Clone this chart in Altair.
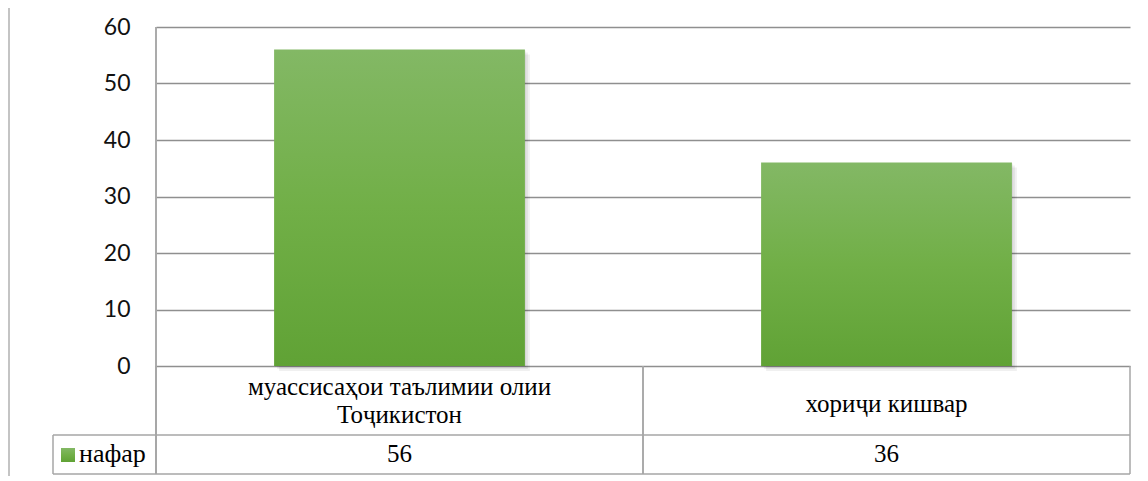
import altair as alt
import pandas as pd

# ---- data ----
categories = ["муассисаҳои таълимии олии\nТоҷикистон", "хориҷи кишвар"]
values = [56, 36]
series_name = "нафар"
y_ticks = [0, 10, 20, 30, 40, 50, 60]

df = pd.DataFrame({"cat": categories, "value": values})
legend_df = pd.DataFrame({"name": [series_name]})

W, H = 974, 339
GRID = "#8f8f8f"
LINE = "#a6a6a6"
SERIF = "'Times New Roman', 'Liberation Serif', 'DejaVu Serif', serif"

green = alt.LinearGradient(
    gradient="linear",
    stops=[alt.GradientStop(color="#83b865", offset=0),
           alt.GradientStop(color="#71af47", offset=0.5),
           alt.GradientStop(color="#60a235", offset=1)],
    x1=0, x2=0, y1=0, y2=1,
)

xscale = alt.Scale(paddingInner=0, paddingOuter=0)
xs = alt.X("cat:N", sort=categories, axis=None, scale=xscale)
ys = alt.Y("value:Q", title=None,
           scale=alt.Scale(domain=[0, 60], nice=False),
           axis=alt.Axis(values=y_ticks, grid=True, gridColor=GRID, gridWidth=1.5,
                         domain=False, ticks=False, labelPadding=26,
                         labelFont="Lato", labelFontSize=23, labelColor="#111111"))

base = alt.Chart(df)
bw = alt.RelativeBandSize(0.515)

shadows = [
    base.mark_bar(width=bw, color="#000000", opacity=0.06, xOffset=o, yOffset=o)
    .encode(x=xs, y=ys)
    for o in (1, 3, 5)
]

bars = base.mark_bar(width=bw, color=green).encode(x=xs, y=ys)

# y-axis line that continues into the data table
axis_line = base.mark_rule(color=LINE, strokeWidth=1.5).encode(
    x=alt.value(0), y=alt.value(0), y2=alt.value(447))

# table vertical lines on band edges
vlines_left = base.mark_rule(color=LINE, strokeWidth=1.5).encode(
    x=alt.X("cat:N", sort=categories, bandPosition=0, axis=None, scale=xscale),
    y=alt.value(339), y2=alt.value(447))
vlines_right = base.mark_rule(color=LINE, strokeWidth=1.5).encode(
    x=alt.X("cat:N", sort=categories, bandPosition=1, axis=None, scale=xscale),
    y=alt.value(339), y2=alt.value(447))

legend_base = alt.Chart(legend_df)
hline_mid = legend_base.mark_rule(color=LINE, strokeWidth=1.5).encode(
    x=alt.value(-103), x2=alt.value(W), y=alt.value(408))
hline_bot = legend_base.mark_rule(color=LINE, strokeWidth=1.5).encode(
    x=alt.value(-103), x2=alt.value(W), y=alt.value(447))
vline_leg = legend_base.mark_rule(color=LINE, strokeWidth=1.5).encode(
    x=alt.value(-103), y=alt.value(408), y2=alt.value(447))
outer = legend_base.mark_rule(color="#b0b0b0", strokeWidth=1.5).encode(
    x=alt.value(-147), y=alt.value(-19), y2=alt.value(462))

leg_sq = legend_base.mark_rect(color=green).encode(
    x=alt.value(-95), x2=alt.value(-81), y=alt.value(421), y2=alt.value(435))
leg_txt = legend_base.mark_text(align="left", baseline="middle", font=SERIF,
                                fontSize=26, color="#000000").encode(
    x=alt.value(-77), y=alt.value(427), text="name:N")

cat_multi = base.transform_filter("indexof(datum.cat, '\\n') >= 0").mark_text(
    align="center", baseline="middle", font=SERIF,
    fontSize=25, lineHeight=28, lineBreak="\n", color="#000000").encode(
    x=xs, y=alt.value(360), text="cat:N")
cat_single = base.transform_filter("indexof(datum.cat, '\\n') < 0").mark_text(
    align="center", baseline="middle", font=SERIF,
    fontSize=25, color="#000000").encode(
    x=xs, y=alt.value(377), text="cat:N")
val_txt = base.mark_text(align="center", baseline="middle", font=SERIF,
                         fontSize=25, color="#000000").encode(
    x=xs, y=alt.value(427), text="value:Q")

chart = alt.layer(
    *shadows, bars, axis_line, vlines_left, vlines_right,
    hline_mid, hline_bot, vline_leg, outer, leg_sq, leg_txt,
    cat_multi, cat_single, val_txt
).properties(
    width=W, height=H,
    autosize=alt.AutoSizeParams(type="none"),
    padding={"left": 148, "top": 19, "right": 10, "bottom": 110},
    background="white",
).configure_view(stroke=None)

chart.save("out.html", embed_options={"renderer": "svg", "actions": False})
